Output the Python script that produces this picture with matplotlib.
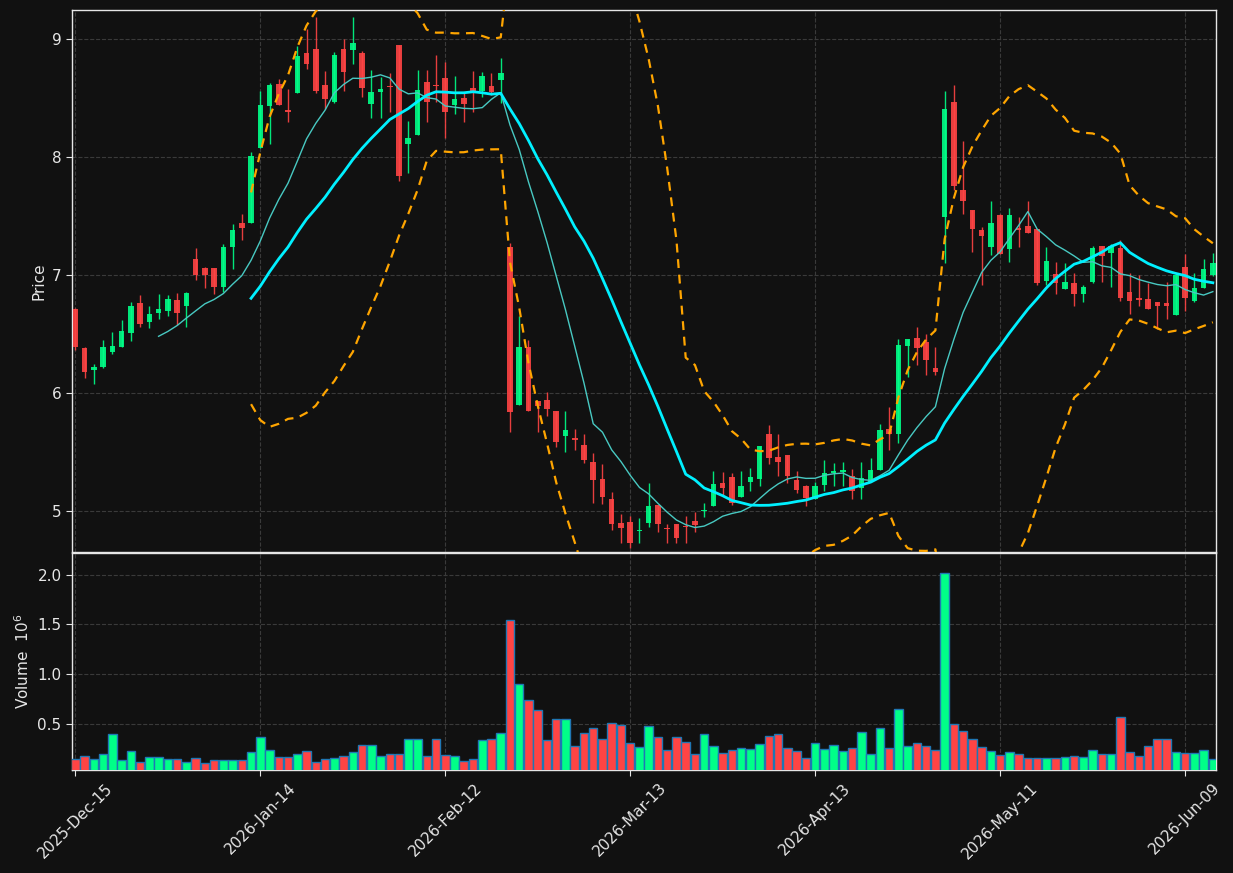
import numpy as np
import pandas as pd
import matplotlib
matplotlib.use('Agg')
import matplotlib.pyplot as plt

# daily OHLC (one row per trading day)
opens = [6.71, 6.38, 6.20, 6.22, 6.35, 6.39, 6.51, 6.76, 6.60, 6.68,
         6.70, 6.79, 6.74, 7.14, 7.06, 7.06, 6.90, 7.24, 7.44, 7.44,
         8.08, 8.43, 8.62, 8.40, 8.54, 8.88, 8.92, 8.61, 8.47, 8.92,
         8.91, 8.88, 8.45, 8.55, 8.602, 8.95, 8.11, 8.19, 8.64, 8.605,
         8.67, 8.44, 8.50, 8.59, 8.56, 8.60, 8.65, 7.24, 5.90, 6.39,
         5.93, 5.94, 5.85, 5.64, 5.62, 5.56, 5.42, 5.27, 5.10, 4.90,
         4.91, 4.83, 4.90, 5.05, 4.853, 4.89, 4.868, 4.92, 5.00, 5.04,
         5.24, 5.29, 5.12, 5.25, 5.27, 5.65, 5.46, 5.48, 5.26, 5.21,
         5.10, 5.22, 5.32, 5.33, 5.30, 5.20, 5.25, 5.35, 5.70, 5.65,
         6.40, 6.47, 6.43, 6.21, 7.49, 8.47, 7.72, 7.55, 7.38, 7.24,
         7.51, 7.22, 7.40, 7.42, 7.39, 6.95, 7.01, 6.88, 6.93, 6.84,
         6.94, 7.25, 7.19, 7.23, 6.86, 6.81, 6.80, 6.77, 6.764, 6.66,
         7.07, 6.78, 6.89, 7.00]
highs = [6.72, 6.39, 6.25, 6.45, 6.52, 6.62, 6.77, 6.83, 6.74, 6.84,
         6.83, 6.85, 6.86, 7.23, 7.07, 7.06, 7.26, 7.43, 7.52, 8.04,
         8.56, 8.63, 8.66, 8.58, 8.94, 9.09, 9.19, 8.73, 8.89, 9.00,
         9.19, 8.90, 8.74, 8.68, 8.71, 8.95, 8.31, 8.74, 8.74, 8.87,
         8.81, 8.69, 8.55, 8.73, 8.72, 8.71, 8.84, 7.27, 6.65, 6.45,
         5.93, 6.01, 5.85, 5.85, 5.70, 5.65, 5.49, 5.40, 5.16, 4.98,
         4.96, 4.94, 5.24, 5.05, 4.89, 4.89, 4.96, 4.99, 5.07, 5.34,
         5.33, 5.32, 5.34, 5.37, 5.55, 5.73, 5.65, 5.48, 5.34, 5.22,
         5.25, 5.43, 5.41, 5.42, 5.36, 5.42, 5.45, 5.74, 5.88, 6.46,
         6.46, 6.56, 6.50, 6.39, 8.56, 8.61, 8.14, 7.55, 7.41, 7.63,
         7.52, 7.57, 7.49, 7.63, 7.39, 7.24, 7.11, 7.10, 7.02, 6.92,
         7.25, 7.25, 7.26, 7.30, 7.02, 7.00, 6.93, 6.77, 6.94, 7.00,
         7.18, 7.02, 7.14, 7.19]
lows = [6.37, 6.13, 6.08, 6.21, 6.33, 6.39, 6.44, 6.56, 6.55, 6.63,
        6.65, 6.58, 6.56, 6.96, 6.89, 6.84, 6.86, 7.05, 7.30, 7.44,
        8.08, 8.11, 8.44, 8.30, 8.54, 8.75, 8.54, 8.41, 8.46, 8.56,
        8.79, 8.51, 8.33, 8.33, 8.38, 7.80, 7.87, 8.19, 8.30, 8.47,
        8.16, 8.37, 8.30, 8.38, 8.51, 8.53, 8.46, 5.67, 5.90, 5.85,
        5.67, 5.81, 5.54, 5.50, 5.52, 5.41, 5.07, 5.06, 4.84, 4.73,
        4.69, 4.73, 4.87, 4.82, 4.73, 4.73, 4.73, 4.82, 4.95, 5.04,
        5.14, 5.05, 5.12, 5.17, 5.21, 5.40, 5.30, 5.24, 5.15, 5.04,
        5.10, 5.17, 5.21, 5.21, 5.10, 5.10, 5.25, 5.35, 5.52, 5.58,
        6.14, 6.24, 6.15, 6.15, 7.10, 7.72, 7.52, 7.20, 6.92, 7.17,
        7.18, 7.11, 7.24, 7.36, 6.92, 6.92, 6.84, 6.88, 6.74, 6.77,
        6.93, 6.94, 6.90, 6.78, 6.67, 6.74, 6.71, 6.54, 6.63, 6.66,
        6.70, 6.77, 6.89, 6.99]
closes = [6.39, 6.18, 6.22, 6.39, 6.40, 6.53, 6.74, 6.59, 6.67, 6.71,
          6.80, 6.68, 6.85, 7.00, 7.00, 6.90, 7.24, 7.38, 7.40, 8.01,
          8.44, 8.61, 8.44, 8.38, 8.86, 8.79, 8.56, 8.49, 8.87, 8.72,
          8.97, 8.59, 8.55, 8.58, 8.598, 7.84, 8.16, 8.57, 8.47, 8.60,
          8.38, 8.49, 8.45, 8.55, 8.69, 8.55, 8.71, 5.84, 6.39, 5.85,
          5.89, 5.87, 5.59, 5.69, 5.60, 5.43, 5.26, 5.12, 4.89, 4.86,
          4.73, 4.84, 5.04, 4.89, 4.850, 4.77, 4.865, 4.88, 5.01, 5.23,
          5.20, 5.07, 5.21, 5.29, 5.55, 5.45, 5.42, 5.30, 5.18, 5.11,
          5.21, 5.32, 5.34, 5.35, 5.17, 5.28, 5.35, 5.69, 5.65, 6.41,
          6.46, 6.38, 6.28, 6.18, 8.41, 7.76, 7.63, 7.39, 7.33, 7.44,
          7.18, 7.51, 7.38, 7.36, 6.93, 7.12, 6.93, 6.94, 6.84, 6.90,
          7.23, 7.16, 7.25, 6.81, 6.78, 6.79, 6.71, 6.74, 6.735, 7.00,
          6.81, 6.89, 7.05, 7.10]
# volume in millions
volumes = [0.145, 0.171, 0.145, 0.195, 0.397, 0.131, 0.226, 0.115, 0.161, 0.161,
           0.141, 0.141, 0.115, 0.155, 0.105, 0.135, 0.135, 0.135, 0.135, 0.215,
           0.367, 0.236, 0.165, 0.165, 0.195, 0.226, 0.115, 0.145, 0.155, 0.175,
           0.215, 0.286, 0.286, 0.175, 0.195, 0.195, 0.346, 0.346, 0.175, 0.346,
           0.185, 0.175, 0.125, 0.145, 0.336, 0.346, 0.407, 1.545, 0.900, 0.739,
           0.638, 0.336, 0.548, 0.548, 0.276, 0.407, 0.457, 0.346, 0.507, 0.487,
           0.306, 0.266, 0.477, 0.367, 0.236, 0.367, 0.316, 0.195, 0.397, 0.276,
           0.205, 0.236, 0.256, 0.246, 0.296, 0.377, 0.397, 0.256, 0.226, 0.155,
           0.306, 0.246, 0.286, 0.226, 0.256, 0.417, 0.195, 0.457, 0.256, 0.648,
           0.276, 0.306, 0.276, 0.236, 2.018, 0.497, 0.427, 0.346, 0.266, 0.226,
           0.185, 0.215, 0.195, 0.155, 0.155, 0.155, 0.155, 0.165, 0.175, 0.165,
           0.236, 0.195, 0.195, 0.568, 0.215, 0.175, 0.276, 0.346, 0.346, 0.215,
           0.205, 0.205, 0.236, 0.145]
tick_pos = [0, 20, 40, 60, 80, 100, 120]
tick_labels = ['2025-Dec-15', '2026-Jan-14', '2026-Feb-12', '2026-Mar-13',
               '2026-Apr-13', '2026-May-11', '2026-Jun-09']

df = pd.DataFrame({'Open': opens, 'High': highs, 'Low': lows,
                   'Close': closes, 'Volume': volumes})
x = np.arange(len(df))

# indicators from the closes
ma10 = df['Close'].rolling(10).mean()
ma20 = df['Close'].rolling(20).mean()
sd20 = df['Close'].rolling(20).std()
upper = ma20 + 2 * sd20
lower = ma20 - 2 * sd20

bg = '#111111'
up_col = '#00ff88'
dn_col = '#ff4444'
txt = '#e6e6e6'

fig = plt.figure(figsize=(12.33, 8.73), dpi=100, facecolor=bg)
ax = fig.add_axes([0.0584, 0.3677, 0.9278, 0.6208])
axv = fig.add_axes([0.0584, 0.1180, 0.9278, 0.2486], sharex=ax)

rising = df['Close'] >= df['Open']
colors = np.where(rising, up_col, dn_col)

# candles
ax.vlines(x, df['Low'], df['High'], colors=colors, linewidth=1, alpha=0.9, zorder=2)
body_low = np.minimum(df['Open'], df['Close'])
body_h = np.maximum((df['Close'] - df['Open']).abs(), 0.008)
ax.bar(x, body_h, bottom=body_low, width=0.6, color=colors, alpha=0.9,
       linewidth=0, zorder=3)

ax.plot(x, ma10, color='#48c9c2', linewidth=1, zorder=4)
ax.plot(x, ma20, color='#00f0ff', linewidth=2, zorder=4)
ax.plot(x, upper, color='#ffa500', linewidth=1.6, linestyle=(0, (4, 3)), zorder=4)
ax.plot(x, lower, color='#ffa500', linewidth=1.6, linestyle=(0, (4, 3)), zorder=4)

# volume
axv.bar(x, df['Volume'], width=0.92, color=colors, edgecolor='#1f77b4',
        linewidth=1, zorder=3)

for a in (ax, axv):
    a.set_facecolor(bg)
    a.grid(True, linestyle='--', color='#3a3a3a', linewidth=0.8, zorder=0)
    for s in a.spines.values():
        s.set_color(txt)
        s.set_linewidth(1)
    a.tick_params(colors=txt, labelsize=11, length=4)

ax.set_xlim(-0.36, 123.34)
ax.set_ylim(4.654, 9.247)
ax.set_yticks([5, 6, 7, 8, 9])
ax.set_ylabel('Price', color=txt, fontsize=11)
ax.tick_params(axis='x', labelbottom=False, length=0)

axv.set_ylim(0.035, 2.22)
axv.set_yticks([0.5, 1.0, 1.5, 2.0])
axv.set_yticklabels(['0.5', '1.0', '1.5', '2.0'])
axv.set_ylabel('Volume  $10^{6}$', color=txt, fontsize=11)
axv.set_xticks(tick_pos)
axv.set_xticklabels(tick_labels, rotation=45)

fig.savefig('out.png', dpi=100, facecolor=bg)
